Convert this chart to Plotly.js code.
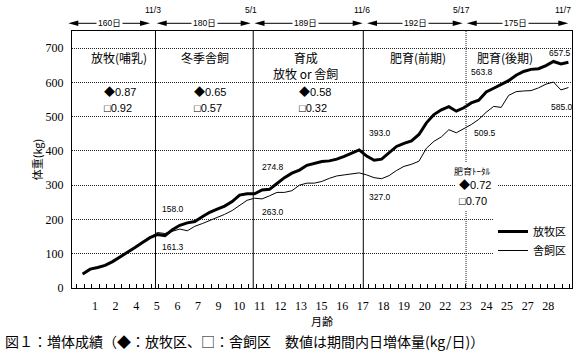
<!DOCTYPE html>
<html><head><meta charset="utf-8">
<script src="https://cdn.plot.ly/plotly-3.0.1.min.js"></script>
<style>body{margin:0;background:#fff}#chart{width:585px;height:359px}</style>
</head><body><div id="chart"></div>
<script>
// ---- data ----
const seriesNames = ['放牧区', '舎飼区'];
const grazing = [41,55,60,66,77,90,104,118,133,147,156,153,170,183,190,194,208,221,230,239,252,271,275,275,286,288,305,322,335,344,358,364,369,371,376,384,393,403,385,373,376,395,413,422,429,448,482,506,520,529,516,526,540,548,572,583,593,605,621,632,638,640,649,661,654,659];
const housed  = [41,55,60,66,77,90,104,118,133,147,162,159,166,172,167,180,188,197,204,215,226,241,256,262,260,269,279,279,284,300,306,306,311,320,327,330,333,336,330,322,319,328,343,355,361,370,408,428,441,462,453,464,477,492,513,530,527,562,573,575,576,584,595,601,578,585];
const monthLabels = ['1','2','4','5','6','7','9','10','11','12','13','15','16','17','18','19','20','22','23','24','25','27','28'];
const yTicks = [0,100,200,300,400,500,600,700];
const stageNames = ['放牧(哺乳)', '冬季舎飼', '育成<br>放牧 or 舎飼', '肥育(前期)', '肥育(後期)'];
const stageDates = ['11/3', '5/1', '11/6', '5/17', '11/7'];
const stageDays = [160, 180, 189, 192, 175];
const grazingGain = [0.87, 0.65, 0.58];
const housedGain = [0.92, 0.57, 0.32];
const fatteningTotal = {grazing: 0.72, housed: 0.70};
const grazingMarks = [158.0, 274.8, 393.0, 563.8, 657.5];
const housedMarks = [161.3, 263.0, 327.0, 509.5, 585.0];
const caption = '図１：増体成績（◆：放牧区、□：舎飼区　数値は期間内日増体量(kg/日)）';

// ---- layout helpers ----
const L = 72, R = 572, T = 31, B = 288;
const px = p => (p - L) / (R - L);
const py = p => (B - p) / (B - T);
const CJK = '"Noto Sans CJK JP", sans-serif';
const NUM = '"Liberation Sans", "Noto Sans CJK JP", sans-serif';

const xIdx = grazing.map((_, i) => i);
const tickPos = monthLabels.map((_, i) => 1.646 + 2.757 * i);
const boundaries = [9.74, 22.82, 37.55];
const dottedBoundary = 51.3;

const traces = [
  {x: xIdx, y: grazing, name: seriesNames[0], mode: 'lines', line: {color: '#000', width: 3}, hoverinfo: 'skip'},
  {x: xIdx, y: housed, name: seriesNames[1], mode: 'lines', line: {color: '#000', width: 1}, hoverinfo: 'skip'}
];

const shapes = [];
const annotations = [];

boundaries.forEach(b => shapes.push({type: 'line', xref: 'x', yref: 'paper', x0: b, x1: b, y0: 0, y1: 1, line: {color: '#000', width: 1}}));
shapes.push({type: 'line', xref: 'x', yref: 'paper', x0: dottedBoundary, x1: dottedBoundary, y0: 0, y1: 1, line: {color: '#222', width: 1, dash: '1px,1px'}});

// header arrows
const segs = [[68.3,150],[156.7,250.7],[254.5,362.7],[367,462.7],[466.7,568.3]];
const segMid = [109, 204, 305, 415, 515];
const dateX = [152.7, 250.7, 361.7, 461.7, 563];
const ay = 23.3;
segs.forEach(([s, e], i) => {
  shapes.push({type: 'line', xref: 'paper', yref: 'paper', x0: px(s + 5), x1: px(e - 5), y0: py(ay), y1: py(ay), line: {color: '#000', width: 1}});
  shapes.push({type: 'path', xref: 'paper', yref: 'paper', path: `M${px(s)},${py(ay)} L${px(s+10)},${py(ay-2.8)} L${px(s+10)},${py(ay+2.8)} Z`, fillcolor: '#000', line: {width: 0}});
  shapes.push({type: 'path', xref: 'paper', yref: 'paper', path: `M${px(e)},${py(ay)} L${px(e-10)},${py(ay-2.8)} L${px(e-10)},${py(ay+2.8)} Z`, fillcolor: '#000', line: {width: 0}});
  annotations.push({xref: 'paper', yref: 'paper', x: px(segMid[i]), y: py(ay), text: stageDays[i] + '日', showarrow: false, bgcolor: '#fff', borderpad: 1, font: {family: NUM, size: 8.5, color: '#000'}, xanchor: 'center', yanchor: 'middle'});
  annotations.push({xref: 'paper', yref: 'paper', x: px(dateX[i]), y: py(10), text: stageDates[i], showarrow: false, font: {family: NUM, size: 8.5, color: '#000'}, xanchor: 'center', yanchor: 'middle'});
});

// stage names
const stageX = [119, 205, 305, 418, 505];
const stageY = [58, 58, 65, 58, 58];
stageNames.forEach((t, i) => annotations.push({xref: 'paper', yref: 'paper', x: px(stageX[i]), y: py(stageY[i]), text: t, showarrow: false, font: {family: CJK, size: 12, color: '#000'}, xanchor: 'center', yanchor: 'middle'}));

// gains
const gainX = [101.7, 191.7, 296.7];
grazingGain.forEach((g, i) => {
  annotations.push({xref: 'paper', yref: 'paper', x: px(gainX[i]), y: py(92.3), text: '◆' + g.toFixed(2), showarrow: false, font: {family: NUM, size: 11, color: '#000'}, xanchor: 'left', yanchor: 'middle'});
  annotations.push({xref: 'paper', yref: 'paper', x: px(gainX[i]), y: py(108.3), text: '□' + housedGain[i].toFixed(2), showarrow: false, font: {family: NUM, size: 11, color: '#000'}, xanchor: 'left', yanchor: 'middle'});
});
annotations.push({xref: 'paper', yref: 'paper', x: px(472), y: py(171.7), text: '肥育ﾄｰﾀﾙ', showarrow: false, bgcolor: '#fff', borderpad: 2, font: {family: CJK, size: 9, color: '#000'}, xanchor: 'center', yanchor: 'middle'});
annotations.push({xref: 'paper', yref: 'paper', x: px(455), y: py(185), text: '◆' + fatteningTotal.grazing.toFixed(2) + ' ', showarrow: false, bgcolor: '#fff', borderpad: 3, font: {family: NUM, size: 11, color: '#000'}, xanchor: 'left', yanchor: 'middle'});
annotations.push({xref: 'paper', yref: 'paper', x: px(455), y: py(201), text: '□' + fatteningTotal.housed.toFixed(2) + ' ', showarrow: false, bgcolor: '#fff', borderpad: 3, font: {family: NUM, size: 11, color: '#000'}, xanchor: 'left', yanchor: 'middle'});

// value marks at stage boundaries
const markX = [160, 260, 366.7, 469, 547];
const gMarkY = [209, 166.7, 132.7, 72.3, 53.3];
const hMarkY = [247.3, 211.7, 196.7, 132.7, 106.7];
grazingMarks.forEach((v, i) => {
  annotations.push({xref: 'paper', yref: 'paper', x: px(markX[i]), y: py(gMarkY[i]), text: v.toFixed(1), showarrow: false, font: {family: NUM, size: 8.5, color: '#000'}, xanchor: 'left', yanchor: 'middle'});
  annotations.push({xref: 'paper', yref: 'paper', x: px(markX[i] + (i === 3 ? 2.5 : i === 4 ? 1.5 : 0)), y: py(hMarkY[i]), text: housedMarks[i].toFixed(1), showarrow: false, font: {family: NUM, size: 8.5, color: '#000'}, xanchor: 'left', yanchor: 'middle'});
});

annotations.push({xref: 'paper', yref: 'paper', x: px(3), y: py(341), text: caption, showarrow: false, font: {family: CJK, size: 14, color: '#000'}, xanchor: 'left', yanchor: 'middle'});

const layout = {
  width: 585, height: 359,
  margin: {l: L, r: 585 - R, t: T, b: 359 - B},
  paper_bgcolor: '#fff', plot_bgcolor: '#fff',
  showlegend: true,
  legend: {x: px(493), y: py(217), xanchor: 'left', yanchor: 'top', bgcolor: '#fff', borderwidth: 0, font: {family: CJK, size: 11, color: '#000'}, tracegroupgap: 0},
  xaxis: {
    range: [-1.432, 65.48], showline: true, mirror: true, linecolor: '#000', linewidth: 1,
    showgrid: false, zeroline: false,
    tickmode: 'array', tickvals: tickPos, ticktext: monthLabels, ticks: '',
    ticklabelstandoff: 7,
    tickfont: {family: '"Liberation Serif", serif', size: 12, color: '#000'},
    minor: {ticks: 'inside', ticklen: 4, tickcolor: '#000', tickwidth: 1, tick0: -0.8, dtick: 1, showgrid: false},
    title: {text: '月齢', font: {family: CJK, size: 11, color: '#000'}, standoff: 0}
  },
  yaxis: {
    range: [0, 750], showline: true, mirror: true, linecolor: '#000', linewidth: 1,
    tickmode: 'array', tickvals: yTicks, ticks: '',
    ticklabelstandoff: 5,
    showgrid: true, gridcolor: '#222', griddash: '1px,1px', gridwidth: 1, zeroline: false,
    tickfont: {family: '"Liberation Serif", serif', size: 12, color: '#000'},
    title: {text: '体重(kg)', font: {family: CJK, size: 11, color: '#000'}, standoff: 0}
  },
  shapes, annotations
};

Plotly.newPlot('chart', traces, layout, {staticPlot: true, displayModeBar: false});
</script></body></html>
